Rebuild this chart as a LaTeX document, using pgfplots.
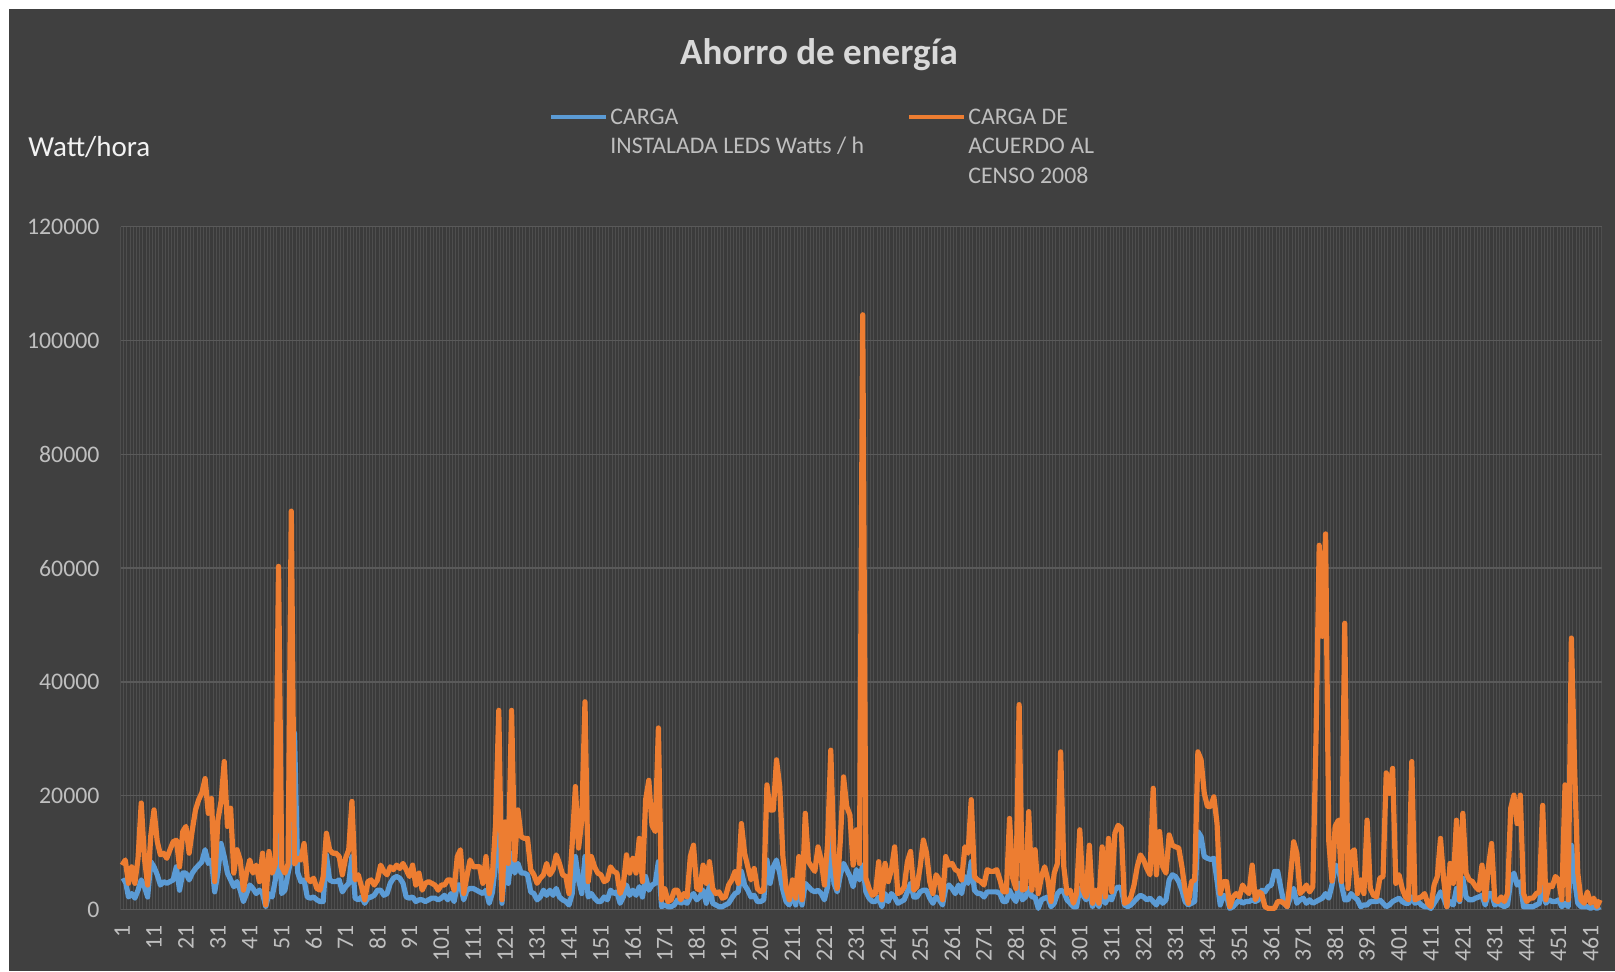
\documentclass[border=0pt]{standalone}
\usepackage{pgfplots}
\pgfplotsset{compat=1.18}
\usepackage{pgfplotstable}
\usepackage{fontspec}
\setmainfont{Carlito}
\definecolor{bg}{HTML}{404040}
\definecolor{plotbg}{HTML}{3B3B3B}
\definecolor{vgrid}{HTML}{4E4E4E}
\definecolor{hgrid}{HTML}{5A5A5A}
\definecolor{ledblue}{HTML}{5B9BD5}
\definecolor{censo}{HTML}{ED7D31}
\definecolor{ticktxt}{HTML}{BFBFBF}
\definecolor{titletxt}{HTML}{D9D9D9}
\pgfplotstableread{
i o b
1 7800 4900
2 8700 5200
3 4600 2200
4 7500 2800
5 4600 2000
6 9000 3400
7 18700 5200
8 9000 4000
9 4300 2200
10 13000 8400
11 17500 7500
12 12000 6100
13 9600 4300
14 9900 4900
15 9000 4600
16 10500 4900
17 11900 5200
18 12200 7500
19 7500 3400
20 13700 6400
21 14600 6400
22 9900 5200
23 14000 6400
24 17500 7200
25 19300 7800
26 20500 8400
27 23000 10500
28 16900 8100
29 19500 8700
30 4900 3100
31 15700 6400
32 19000 11600
33 26000 9300
34 14600 6400
35 17800 5200
36 6400 4000
37 10500 4900
38 8700 3400
39 3400 1400
40 6500 2800
41 8700 4300
42 6400 3700
43 7800 2800
44 4900 3400
45 9900 2800
46 800 500
47 10200 2800
48 6400 2200
49 8000 5200
50 60300 15000
51 7500 2800
52 6400 3400
53 8000 6400
54 70000 9000
55 8000 31000
56 9000 6500
57 8700 4900
58 11600 5200
59 5500 2200
60 4900 2000
61 5500 2200
62 3700 1700
63 3400 1400
64 5800 1400
65 13400 9600
66 10500 5200
67 9900 4900
68 9900 4900
69 9300 5200
70 6100 3100
71 9000 4000
72 10500 4600
73 19000 9300
74 5200 2000
75 6100 1700
76 4000 2200
77 1700 1100
78 4900 2000
79 5200 2200
80 4300 2500
81 5200 3400
82 7800 3400
83 6700 2500
84 6100 2800
85 7500 4600
86 7000 5500
87 7800 5800
88 7200 5500
89 8100 4600
90 7000 2200
91 5800 2000
92 7800 2200
93 4300 1400
94 6400 1700
95 3400 1700
96 4600 1400
97 4900 1700
98 4600 2000
99 4300 2000
100 3400 1700
101 4300 2000
102 4300 2500
103 5200 1700
104 5200 2800
105 3400 1400
106 9300 4300
107 10500 4300
108 2800 1700
109 5800 3400
110 8700 3700
111 7500 3700
112 7500 3400
113 7500 3100
114 4600 2800
115 9300 3400
116 2800 1100
117 6000 3000
118 15000 8000
119 35000 16000
120 1700 1100
121 15400 8100
122 8100 4600
123 35000 9900
124 8700 6400
125 17500 8100
126 12800 6400
127 12500 6400
128 12500 6100
129 7000 3100
130 6100 2800
131 4600 1700
132 5500 2200
133 6100 3400
134 8100 2500
135 6100 3400
136 7000 2500
137 9600 3700
138 8100 2200
139 6100 1700
140 5800 1400
141 2800 800
142 11600 2800
143 21600 9300
144 10800 5200
145 15700 2800
146 36500 9300
147 4900 2200
148 9300 2800
149 7500 2000
150 6400 1400
151 6100 1400
152 4900 2200
153 5200 1700
154 7500 3400
155 6700 2800
156 6400 3100
157 2800 1100
158 4300 2200
159 9600 4300
160 6400 2500
161 9000 3400
162 6400 2500
163 12500 4000
164 4900 2200
165 19300 5800
166 22700 3400
167 14800 4300
168 13700 4600
169 31900 8400
170 1700 500
171 3700 800
172 1400 500
173 1700 500
174 3400 800
175 3400 1700
176 1700 1100
177 2800 1400
178 2200 1100
179 9300 2200
180 11300 2800
181 3700 1700
182 3400 2200
183 7800 3400
184 4600 1100
185 8400 4300
186 3700 1100
187 2800 800
188 3100 500
189 2000 500
190 2200 800
191 4300 1100
192 5200 2000
193 6700 2800
194 4600 3100
195 15100 6700
196 9900 4300
197 7500 3400
198 5200 2200
199 7200 2500
200 3700 1400
201 3100 1400
202 3400 1700
203 21900 8700
204 17500 4600
205 17500 7500
206 26300 8700
207 21600 6400
208 9300 3400
209 3700 1400
210 1700 800
211 5200 3400
212 2000 800
213 9300 4300
214 1700 800
215 16900 4600
216 8400 4000
217 7500 3400
218 6700 3100
219 11000 3400
220 8700 2800
221 4300 1700
222 11600 4000
223 28000 12500
224 9300 4600
225 3700 3100
226 12200 6100
227 23300 8100
228 18100 7000
229 16600 5800
230 7800 4000
231 14000 7000
232 8100 5200
233 104500 7800
234 5500 3100
235 3700 2000
236 2500 1400
237 2800 1400
238 8400 2200
239 1700 500
240 8100 2800
241 4900 1400
242 7000 2800
243 11000 2200
244 2800 1100
245 3100 1400
246 4000 1700
247 8400 3100
248 10200 4600
249 3400 2200
250 4000 2200
251 7500 3100
252 12200 3400
253 9900 3400
254 4900 2000
255 2800 1100
256 6100 2200
257 5200 1700
258 1700 800
259 9300 3700
260 7800 4300
261 8100 3700
262 7000 2800
263 6700 4300
264 5200 2800
265 11000 5800
266 9900 4600
267 19300 8400
268 5800 3400
269 5200 2800
270 4900 2800
271 4300 2200
272 7000 3100
273 6700 3100
274 6700 3100
275 7000 3100
276 5200 2800
277 3100 1400
278 3100 1400
279 16000 3400
280 5500 2200
281 3700 1400
282 36000 4600
283 3400 1700
284 3700 2200
285 17200 3700
286 3400 2200
287 10500 2200
288 2800 200
289 5800 1700
290 7500 2000
291 5200 2200
292 1400 500
293 6400 1100
294 8100 2800
295 27700 3400
296 7500 3100
297 2800 1700
298 3400 1100
299 1100 500
300 2800 500
301 14000 3700
302 3400 2500
303 2200 1700
304 11300 3100
305 1100 500
306 3400 2200
307 1100 500
308 11000 2800
309 2200 1100
310 12500 2200
311 3100 1700
312 13400 3400
313 14800 4000
314 14300 3700
315 1100 800
316 1400 500
317 2200 800
318 4300 1400
319 7500 2000
320 9600 2500
321 8700 2200
322 7200 1700
323 6100 2000
324 21300 1400
325 6100 800
326 13700 2000
327 7500 1100
328 6400 1700
329 13100 5200
330 11300 6100
331 11000 5800
332 10800 4900
333 7500 3400
334 3400 1400
335 1100 800
336 4900 1100
337 5200 1400
338 27700 13700
339 26300 12800
340 20400 9300
341 18100 9000
342 18100 8800
343 19800 9000
344 15100 5000
345 2800 800
346 4900 2500
347 4900 2200
348 500 200
349 2200 500
350 2800 1100
351 2200 1700
352 4300 1100
353 3400 1400
354 2800 1400
355 7800 1700
356 1700 1400
357 3100 1700
358 2800 3400
359 500 3100
360 200 4000
361 200 4300
362 200 6700
363 1400 6700
364 1400 3700
365 1100 1100
366 500 500
367 5800 2200
368 11900 3700
369 9900 1100
370 2800 1700
371 3400 2000
372 4300 1100
373 3100 1700
374 4000 1100
375 30000 1400
376 64000 1700
377 48000 2000
378 66000 2800
379 12000 2000
380 5000 4300
381 14600 7800
382 15700 7500
383 4900 4300
384 50300 1700
385 3700 1700
386 9900 2800
387 10500 2200
388 2800 1700
389 5200 500
390 2800 800
391 15700 800
392 3700 1400
393 2500 1400
394 2200 1400
395 5500 1700
396 5800 1100
397 24000 500
398 20400 800
399 24800 1400
400 4600 1700
401 6100 2000
402 3700 1400
403 2200 1100
404 1700 1100
405 26000 2200
406 1700 1100
407 2000 1400
408 2200 800
409 2800 500
410 1100 500
411 500 200
412 4300 1100
413 5800 2000
414 12500 3100
415 5200 2000
416 500 500
417 8100 1400
418 4600 800
419 15700 3700
420 1700 1400
421 16900 5500
422 6400 2200
423 5200 1700
424 4900 1700
425 4000 2000
426 3400 2200
427 7800 2500
428 1700 800
429 7500 2800
430 11600 2800
431 1700 800
432 1400 1100
433 2200 800
434 1400 500
435 2800 800
436 17800 5200
437 20100 6400
438 15100 4300
439 20100 4900
440 2800 500
441 1400 500
442 2000 500
443 2000 500
444 2800 800
445 3100 1100
446 18300 4600
447 1700 1100
448 4300 1700
449 4000 1400
450 5800 1400
451 5200 1700
452 1700 500
453 21900 1100
454 1700 500
455 47700 11300
456 25000 5200
457 6400 1100
458 1700 500
459 1100 500
460 3100 500
461 1100 200
462 2000 500
463 500 200
464 1700 500
}\datatable
\begin{document}
\begin{tikzpicture}
\useasboundingbox (0,0) rectangle (807.5pt,485.5pt);
\fill[white] (0,0) rectangle (807.5pt,485.5pt);
\fill[bg] (4.5pt,0) rectangle (807.5pt,481pt);
\begin{axis}[
  at={(60.25pt,30.75pt)}, anchor=south west,
  scale only axis, width=740.6pt, height=341.45pt,
  xmin=0.5, xmax=464.5, ymin=0, ymax=120000,
  axis background/.style={fill=plotbg},
  axis line style={draw=none},
  major tick style={draw=none}, minor tick style={draw=none},
  xtick={1,11,...,461},
  minor xtick={0.5,1.5,...,464.5},
  xminorgrids=true,
  minor grid style={vgrid, line width=0.5pt},
  ytick={0,20000,...,120000},
  ymajorgrids=true,
  major grid style={hgrid, line width=0.7pt},
  scaled ticks=false,
  /pgf/number format/.cd, fixed, 1000 sep={}, assume math mode=true,
  /pgfplots/.cd,
  ticklabel style={font=\fontsize{11.9pt}{14pt}\selectfont, text=ticktxt},
  xticklabel style={rotate=90, anchor=east},
  xticklabel shift=4.5pt,
  yticklabel shift=7pt,
  clip=false,
]
\addplot[ledblue, line width=2.6pt, line join=round] table[x=i, y=b] {\datatable};
\addplot[censo, line width=2.6pt, line join=round] table[x=i, y=o] {\datatable};
\end{axis}
\node[font=\bfseries\fontsize{18.5pt}{22pt}\selectfont, text=titletxt] at (409.5pt,458.2pt) {Ahorro de energía};
\node[font=\fontsize{14.5pt}{17pt}\selectfont, text=white!95!black, anchor=mid west, inner sep=0pt] at (14pt,409.5pt) {Watt/hora};
\draw[ledblue, line width=2.4pt] (275.5pt,427pt) -- (303pt,427pt);
\draw[censo, line width=2.4pt] (454.5pt,427pt) -- (482pt,427pt);
\begin{scope}[every node/.style={font=\fontsize{11.9pt}{14pt}\selectfont, text=ticktxt, anchor=mid west, inner sep=0pt}]
\node at (305pt,425.5pt) {CARGA};
\node at (305pt,410.9pt) {INSTALADA LEDS Watts / h};
\node at (484pt,425.5pt) {CARGA DE};
\node at (484pt,410.9pt) {ACUERDO AL};
\node at (484pt,396pt) {CENSO 2008};
\end{scope}
\end{tikzpicture}
\end{document}
